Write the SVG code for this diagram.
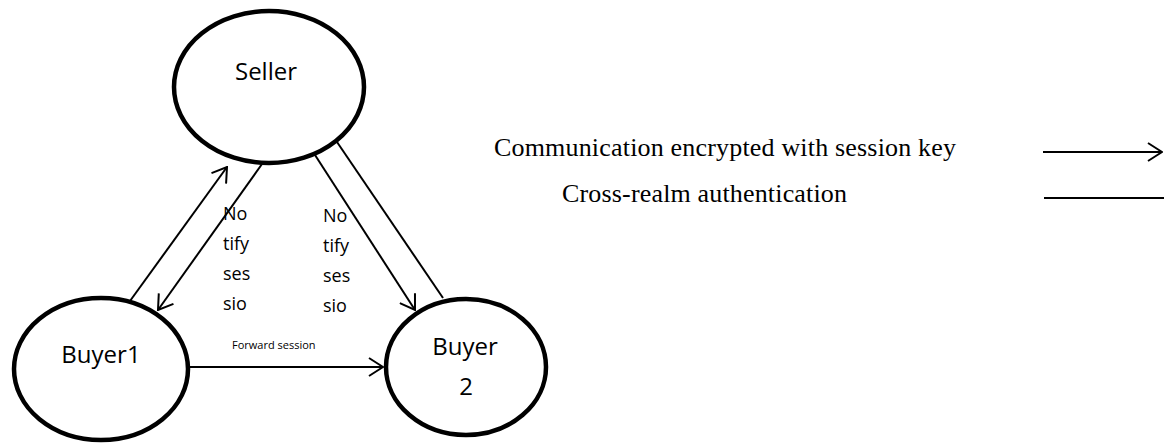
<svg xmlns="http://www.w3.org/2000/svg" width="1164" height="443" viewBox="0 0 1164 443">
  <style>
    .node { fill: #fff; stroke: #000; stroke-width: 4.5; }
    .label { font-family: "Open Sans", "Liberation Sans", sans-serif; font-size: 24px; fill: #000; }
    .note { font-family: "Open Sans", "Liberation Sans", sans-serif; font-size: 18px; fill: #000; }
    .small { font-family: "Open Sans", "Liberation Sans", sans-serif; font-size: 11px; fill: #000; }
    .legend { font-family: "Liberation Serif", "Times New Roman", serif; font-size: 26px; fill: #000; }
    .edge { stroke: #000; stroke-width: 2; fill: none; }
  </style>
  <defs>
    <marker id="open-arrow" viewBox="0 0 16 20" refX="15" refY="10" markerWidth="16" markerHeight="20" markerUnits="userSpaceOnUse" orient="auto">
      <path d="M1,1 L15,10 L1,19" fill="none" stroke="#000" stroke-width="2"/>
    </marker>
  </defs>

  <rect width="1164" height="443" fill="#fff"/>

  <!-- connectors -->
  <g id="connectors">
    <line class="edge" x1="130" y1="301" x2="227" y2="167" marker-end="url(#open-arrow)"/>
    <line class="edge" x1="262" y1="164" x2="158" y2="310" marker-end="url(#open-arrow)"/>
    <line class="edge" x1="315" y1="155" x2="415" y2="310" marker-end="url(#open-arrow)"/>
    <line class="edge" x1="337" y1="142" x2="443" y2="298"/>
    <line class="edge" x1="190" y1="367" x2="383" y2="367" marker-end="url(#open-arrow)"/>
    <text class="small" x="232" y="349">Forward session</text>
    <g id="notify-left" class="note">
      <text x="223" y="220">No</text>
      <text x="223" y="250">tify</text>
      <text x="223" y="280">ses</text>
      <text x="223" y="310">sio</text>
    </g>
    <g id="notify-right" class="note">
      <text x="323" y="222">No</text>
      <text x="323" y="252">tify</text>
      <text x="323" y="282">ses</text>
      <text x="323" y="312">sio</text>
    </g>
  </g>

  <!-- nodes -->
  <g id="seller">
    <ellipse class="node" cx="269" cy="87" rx="95" ry="76"/>
    <text class="label" x="266" y="80" text-anchor="middle">Seller</text>
  </g>
  <g id="buyer1">
    <ellipse class="node" cx="101" cy="369" rx="87" ry="71"/>
    <text class="label" x="101" y="363" text-anchor="middle">Buyer1</text>
  </g>
  <g id="buyer2">
    <ellipse class="node" cx="466" cy="367" rx="80" ry="68"/>
    <text class="label" x="465" y="355" text-anchor="middle">Buyer</text>
    <text class="label" x="466" y="395" text-anchor="middle">2</text>
  </g>

  <!-- legend -->
  <g id="legend">
    <text class="legend" x="494" y="156" textLength="462">Communication encrypted with session key</text>
    <line class="edge" x1="1043" y1="152" x2="1162" y2="152" marker-end="url(#open-arrow)"/>
    <text class="legend" x="562" y="202" textLength="285">Cross-realm authentication</text>
    <line class="edge" x1="1044" y1="198" x2="1164" y2="198"/>
  </g>
</svg>
